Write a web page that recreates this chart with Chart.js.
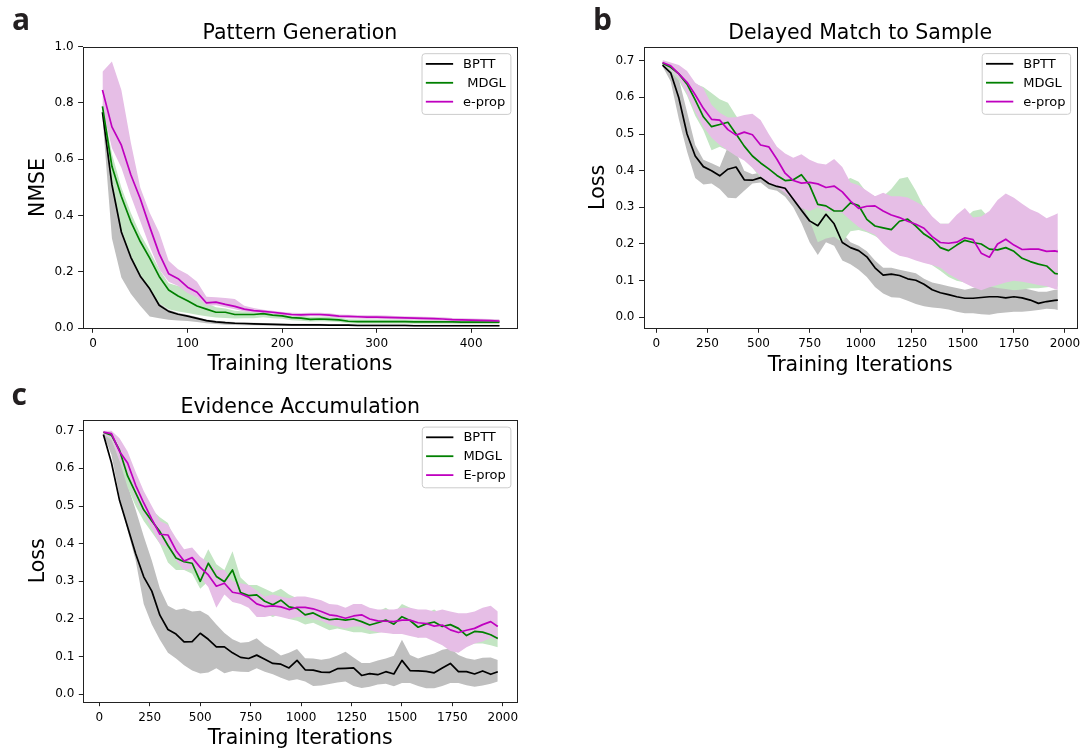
<!DOCTYPE html>
<html>
<head>
<meta charset="utf-8">
<script src="https://cdn.jsdelivr.net/npm/chart.js@4.4.1/dist/chart.umd.min.js"></script>
<style>
  html, body { margin: 0; padding: 0; background: #fff; }
  body { width: 1088px; height: 751px; position: relative; overflow: hidden; }
  canvas { position: absolute; }
</style>
</head>
<body>
<canvas id="chartA" width="544" height="380" style="left:0;top:0"></canvas>
<canvas id="chartB" width="540" height="380" style="left:548px;top:0"></canvas>
<canvas id="chartC" width="544" height="371" style="left:0;top:380px"></canvas>
<script>
// ---- panel a: Pattern Generation ----
const xA = [10,20,30,40,50,60,70,80,90,100,110,120,130,140,150,160,170,180,190,200,210,220,230,240,250,260,270,280,290,300,310,320,330,340,350,360,370,380,390,400,410,420,430];
const bpttA = [0.767,0.51,0.342,0.252,0.185,0.14,0.082,0.06,0.05,0.043,0.035,0.027,0.023,0.02,0.018,0.017,0.016,0.015,0.014,0.013,0.012,0.012,0.012,0.012,0.011,0.011,0.011,0.010,0.010,0.010,0.010,0.010,0.010,0.009,0.009,0.009,0.009,0.009,0.009,0.009,0.009,0.009,0.009];
const bpttLoA = [0.75,0.32,0.18,0.123,0.08,0.042,0.036,0.03,0.028,0.026,0.022,0.018,0.015,0.013,0.012,0.011,0.011,0.010,0.010,0.009,0.009,0.009,0.008,0.008,0.008,0.008,0.008,0.007,0.007,0.007,0.007,0.007,0.007,0.006,0.006,0.006,0.006,0.006,0.006,0.006,0.006,0.006,0.006];
const bpttHiA = [0.775,0.54,0.365,0.27,0.2,0.152,0.09,0.066,0.055,0.048,0.04,0.031,0.027,0.024,0.022,0.021,0.02,0.019,0.018,0.017,0.016,0.016,0.016,0.016,0.015,0.015,0.015,0.014,0.014,0.014,0.014,0.014,0.014,0.013,0.013,0.013,0.013,0.013,0.013,0.013,0.013,0.013,0.013];
const mdglA = [0.788,0.575,0.468,0.379,0.308,0.249,0.184,0.136,0.115,0.098,0.079,0.068,0.057,0.057,0.049,0.049,0.049,0.052,0.047,0.044,0.038,0.036,0.032,0.033,0.032,0.030,0.025,0.024,0.024,0.024,0.024,0.024,0.024,0.023,0.023,0.023,0.023,0.023,0.022,0.022,0.022,0.022,0.022];
const mdglLoA = [0.75,0.525,0.35,0.26,0.19,0.145,0.09,0.068,0.06,0.054,0.048,0.043,0.038,0.037,0.035,0.036,0.036,0.039,0.036,0.034,0.029,0.027,0.024,0.025,0.024,0.022,0.018,0.017,0.017,0.017,0.017,0.017,0.017,0.016,0.016,0.016,0.016,0.016,0.015,0.015,0.015,0.015,0.015];
const mdglHiA = [0.80,0.62,0.50,0.41,0.335,0.275,0.21,0.16,0.15,0.14,0.11,0.09,0.075,0.07,0.062,0.06,0.06,0.064,0.058,0.054,0.047,0.045,0.04,0.041,0.04,0.038,0.032,0.031,0.031,0.031,0.031,0.031,0.031,0.030,0.030,0.030,0.030,0.030,0.029,0.029,0.029,0.029,0.029];
const epropA = [0.846,0.715,0.65,0.545,0.46,0.36,0.265,0.194,0.176,0.146,0.128,0.09,0.093,0.085,0.078,0.068,0.063,0.06,0.057,0.053,0.049,0.048,0.049,0.049,0.047,0.043,0.042,0.041,0.040,0.040,0.039,0.038,0.037,0.036,0.035,0.034,0.033,0.031,0.030,0.029,0.028,0.027,0.026];
const epropLoA = [0.78,0.64,0.57,0.47,0.38,0.29,0.21,0.165,0.15,0.125,0.11,0.08,0.082,0.075,0.068,0.06,0.056,0.053,0.05,0.047,0.043,0.042,0.043,0.043,0.041,0.037,0.036,0.035,0.034,0.034,0.033,0.032,0.031,0.030,0.029,0.028,0.027,0.025,0.024,0.023,0.022,0.021,0.020];
const epropHiA = [0.911,0.947,0.846,0.66,0.50,0.41,0.34,0.24,0.21,0.192,0.165,0.112,0.11,0.108,0.104,0.08,0.072,0.066,0.062,0.058,0.055,0.054,0.055,0.055,0.053,0.049,0.048,0.047,0.046,0.046,0.045,0.044,0.043,0.042,0.041,0.040,0.039,0.037,0.036,0.035,0.034,0.033,0.032];
const xTicksA = [0,100,200,300,400];
const yTicksA = [0,0.2,0.4,0.6,0.8,1.0];

// ---- panel b: Delayed Match to Sample ----
const xB = [30,70,110,150,190,230,270,310,350,390,430,470,510,550,590,630,670,710,750,790,830,870,910,950,990,1030,1070,1110,1150,1190,1230,1270,1310,1350,1390,1430,1470,1510,1550,1590,1630,1670,1710,1750,1790,1830,1870,1910,1950,1965];
const bpttB = [0.688,0.667,0.598,0.500,0.440,0.411,0.400,0.386,0.404,0.410,0.375,0.374,0.381,0.365,0.357,0.352,0.322,0.292,0.263,0.250,0.281,0.255,0.204,0.190,0.182,0.165,0.135,0.115,0.118,0.114,0.105,0.101,0.090,0.075,0.067,0.062,0.056,0.052,0.052,0.054,0.056,0.056,0.053,0.056,0.053,0.047,0.038,0.043,0.046,0.047];
const bpttLoB = [0.685,0.643,0.540,0.452,0.380,0.362,0.365,0.350,0.326,0.325,0.345,0.365,0.368,0.350,0.345,0.329,0.300,0.257,0.205,0.170,0.205,0.195,0.155,0.145,0.130,0.110,0.083,0.065,0.055,0.053,0.045,0.036,0.030,0.027,0.025,0.021,0.015,0.011,0.011,0.008,0.007,0.011,0.013,0.015,0.015,0.017,0.020,0.023,0.022,0.020];
const bpttHiB = [0.697,0.690,0.650,0.560,0.470,0.430,0.420,0.410,0.465,0.450,0.400,0.390,0.395,0.385,0.370,0.362,0.340,0.310,0.285,0.270,0.290,0.275,0.230,0.205,0.195,0.180,0.155,0.135,0.135,0.130,0.125,0.120,0.105,0.095,0.090,0.085,0.080,0.075,0.080,0.085,0.085,0.090,0.085,0.085,0.080,0.075,0.070,0.070,0.075,0.075];
const mdglB = [0.693,0.682,0.664,0.636,0.593,0.547,0.520,0.526,0.532,0.500,0.467,0.440,0.421,0.405,0.387,0.373,0.375,0.389,0.360,0.308,0.304,0.290,0.290,0.312,0.305,0.267,0.249,0.244,0.239,0.262,0.268,0.249,0.227,0.213,0.190,0.182,0.197,0.210,0.204,0.200,0.186,0.184,0.190,0.180,0.161,0.152,0.145,0.140,0.120,0.118];
const mdglLoB = [0.685,0.670,0.645,0.605,0.550,0.510,0.456,0.465,0.455,0.445,0.430,0.408,0.380,0.362,0.354,0.343,0.330,0.310,0.265,0.205,0.215,0.220,0.205,0.235,0.238,0.232,0.222,0.208,0.200,0.190,0.180,0.165,0.155,0.142,0.127,0.110,0.100,0.095,0.090,0.087,0.084,0.080,0.077,0.074,0.076,0.079,0.079,0.082,0.084,0.084];
const mdglHiB = [0.698,0.692,0.680,0.650,0.637,0.628,0.612,0.595,0.585,0.550,0.520,0.500,0.470,0.450,0.430,0.410,0.420,0.440,0.410,0.380,0.370,0.360,0.370,0.380,0.370,0.340,0.330,0.330,0.350,0.378,0.383,0.345,0.300,0.270,0.255,0.255,0.260,0.270,0.290,0.295,0.270,0.260,0.250,0.240,0.230,0.220,0.210,0.200,0.190,0.185];
const epropB = [0.695,0.686,0.664,0.641,0.607,0.570,0.540,0.538,0.512,0.497,0.505,0.498,0.470,0.465,0.431,0.393,0.373,0.366,0.368,0.364,0.354,0.358,0.342,0.317,0.297,0.303,0.304,0.290,0.279,0.272,0.262,0.254,0.243,0.220,0.204,0.202,0.205,0.217,0.212,0.175,0.164,0.200,0.213,0.197,0.185,0.186,0.186,0.180,0.181,0.179];
const epropLoB = [0.688,0.675,0.652,0.610,0.560,0.520,0.490,0.470,0.455,0.440,0.428,0.408,0.385,0.366,0.355,0.340,0.318,0.298,0.290,0.300,0.290,0.288,0.285,0.265,0.246,0.235,0.225,0.200,0.180,0.168,0.163,0.155,0.148,0.143,0.135,0.118,0.105,0.093,0.082,0.074,0.082,0.088,0.095,0.100,0.097,0.093,0.088,0.085,0.077,0.075];
const epropHiB = [0.702,0.695,0.688,0.672,0.640,0.625,0.580,0.558,0.545,0.546,0.552,0.555,0.538,0.500,0.465,0.447,0.435,0.445,0.430,0.420,0.417,0.432,0.410,0.368,0.360,0.345,0.330,0.340,0.330,0.330,0.327,0.315,0.303,0.275,0.255,0.255,0.280,0.298,0.272,0.275,0.290,0.320,0.338,0.326,0.310,0.295,0.285,0.270,0.280,0.284];
const xTicksB = [0,250,500,750,1000,1250,1500,1750,2000];
const yTicksB = [0,0.1,0.2,0.3,0.4,0.5,0.6,0.7];

// ---- panel c: Evidence Accumulation ----
const xC = [20,60,100,140,180,220,260,300,340,380,420,460,500,540,580,620,660,700,740,780,820,860,900,940,980,1020,1060,1100,1140,1180,1220,1260,1300,1340,1380,1420,1460,1500,1540,1580,1620,1660,1700,1740,1780,1820,1860,1900,1940,1975];
const bpttC = [0.690,0.615,0.515,0.444,0.373,0.312,0.274,0.210,0.172,0.160,0.139,0.140,0.162,0.146,0.126,0.126,0.110,0.098,0.095,0.104,0.093,0.082,0.080,0.070,0.090,0.065,0.064,0.059,0.058,0.068,0.069,0.070,0.050,0.055,0.052,0.060,0.054,0.090,0.063,0.062,0.061,0.057,0.070,0.082,0.060,0.060,0.054,0.062,0.053,0.060];
const bpttLoC = [0.690,0.636,0.525,0.435,0.355,0.240,0.185,0.145,0.110,0.095,0.077,0.063,0.055,0.058,0.069,0.056,0.062,0.060,0.059,0.069,0.060,0.053,0.044,0.036,0.040,0.034,0.022,0.023,0.027,0.031,0.034,0.022,0.017,0.020,0.026,0.028,0.021,0.030,0.030,0.022,0.016,0.016,0.022,0.030,0.030,0.024,0.020,0.023,0.028,0.034];
const bpttHiC = [0.693,0.680,0.635,0.555,0.490,0.420,0.355,0.281,0.235,0.224,0.228,0.220,0.222,0.210,0.185,0.163,0.146,0.137,0.139,0.149,0.130,0.118,0.103,0.110,0.120,0.096,0.095,0.092,0.095,0.103,0.113,0.098,0.083,0.083,0.090,0.095,0.102,0.145,0.104,0.095,0.102,0.108,0.118,0.122,0.104,0.096,0.092,0.097,0.098,0.091];
const mdglC = [0.696,0.688,0.648,0.580,0.535,0.490,0.460,0.432,0.395,0.362,0.352,0.348,0.300,0.348,0.313,0.299,0.330,0.270,0.262,0.264,0.247,0.238,0.250,0.232,0.228,0.211,0.216,0.205,0.198,0.200,0.197,0.200,0.193,0.184,0.190,0.197,0.186,0.206,0.196,0.178,0.187,0.192,0.180,0.185,0.175,0.156,0.167,0.165,0.158,0.148];
const mdglLoC = [0.690,0.675,0.620,0.550,0.500,0.460,0.430,0.400,0.350,0.330,0.330,0.320,0.280,0.300,0.290,0.270,0.290,0.245,0.235,0.235,0.215,0.205,0.215,0.200,0.195,0.185,0.190,0.180,0.170,0.175,0.170,0.165,0.165,0.160,0.163,0.168,0.160,0.175,0.165,0.150,0.160,0.165,0.150,0.155,0.145,0.128,0.135,0.135,0.130,0.125];
const mdglHiC = [0.698,0.697,0.670,0.600,0.580,0.530,0.490,0.470,0.455,0.400,0.380,0.375,0.340,0.385,0.345,0.330,0.380,0.310,0.290,0.290,0.280,0.270,0.280,0.265,0.255,0.240,0.245,0.235,0.225,0.230,0.225,0.230,0.225,0.215,0.220,0.230,0.215,0.240,0.230,0.210,0.215,0.225,0.210,0.215,0.205,0.190,0.195,0.195,0.190,0.175];
const epropC = [0.696,0.692,0.645,0.614,0.555,0.508,0.465,0.425,0.423,0.382,0.354,0.363,0.337,0.317,0.287,0.295,0.271,0.267,0.258,0.240,0.233,0.235,0.232,0.225,0.231,0.231,0.227,0.220,0.211,0.208,0.202,0.208,0.211,0.200,0.195,0.194,0.193,0.197,0.197,0.190,0.188,0.181,0.184,0.171,0.164,0.170,0.175,0.185,0.193,0.180];
const epropLoC = [0.690,0.680,0.620,0.580,0.520,0.480,0.440,0.400,0.390,0.355,0.330,0.335,0.310,0.285,0.230,0.265,0.245,0.240,0.230,0.205,0.205,0.210,0.205,0.200,0.205,0.205,0.200,0.195,0.185,0.180,0.175,0.180,0.180,0.170,0.165,0.163,0.160,0.160,0.155,0.150,0.150,0.140,0.130,0.115,0.110,0.125,0.135,0.140,0.150,0.145];
const epropHiC = [0.700,0.700,0.680,0.645,0.590,0.540,0.500,0.460,0.450,0.415,0.385,0.390,0.365,0.350,0.330,0.330,0.300,0.295,0.290,0.275,0.260,0.265,0.260,0.255,0.260,0.260,0.255,0.250,0.240,0.238,0.230,0.240,0.240,0.230,0.225,0.225,0.225,0.230,0.230,0.225,0.225,0.220,0.225,0.220,0.215,0.215,0.220,0.230,0.235,0.220];
const xTicksC = [0,250,500,750,1000,1250,1500,1750,2000];
const yTicksC = [0,0.1,0.2,0.3,0.4,0.5,0.6,0.7];

const FONT = 'DejaVu Sans';
const GRAY_BAND = '#bfbfbf';
const GREEN_BAND = '#c3e5c3';
const PINK_BAND = '#e6bee6';

function pts(xs, ys) {
  return xs.map((x, i) => ({x: x, y: ys[i]}));
}

function band(xs, lo, hi, color, order) {
  return [
    {data: pts(xs, lo), borderColor: 'rgba(0,0,0,0)', backgroundColor: color, pointRadius: 0, fill: false, order: order},
    {data: pts(xs, hi), borderColor: 'rgba(0,0,0,0)', backgroundColor: color, pointRadius: 0, fill: '-1', order: order}
  ];
}

function line(xs, ys, label, color, order) {
  return {label: label, data: pts(xs, ys), borderColor: color, borderWidth: 1.7, pointRadius: 0,
          fill: false, order: order, borderJoinStyle: 'round', showInLegend: true};
}

// frame, title, panel letter and the boxed legend
const deco = {
  id: 'deco',
  afterDatasetsDraw(chart, args, o) {
    const ctx = chart.ctx;
    const a = chart.chartArea;
    ctx.save();
    ctx.strokeStyle = '#222';
    ctx.lineWidth = 1;
    ctx.strokeRect(Math.round(a.left) + 0.5, Math.round(a.top) + 0.5,
                   Math.round(a.right) - Math.round(a.left), Math.round(a.bottom) - Math.round(a.top));

    ctx.fillStyle = '#000';
    ctx.textBaseline = 'alphabetic';
    ctx.textAlign = 'center';
    ctx.font = '20.5px "' + FONT + '"';
    ctx.fillText(o.title, (a.left + a.right) / 2, a.top - 7.4);

    ctx.textAlign = 'left';
    ctx.font = 'bold 30px "Open Sans"';
    ctx.fillStyle = '#231f20';
    ctx.fillText(o.letter, o.lx, o.ly);

    ctx.font = '13px "' + FONT + '"';
    const items = chart.data.datasets.filter(d => d.showInLegend);
    const tw = Math.max(...items.map(d => ctx.measureText(d.label).width));
    const w = 46.2 + tw, h = 60.7;
    const x0 = a.right - 6.8 - w, y0 = a.top + 6.6;
    ctx.beginPath();
    ctx.roundRect(x0 + 0.5, y0 + 0.5, w, h, 3);
    ctx.fillStyle = 'rgba(255,255,255,0.8)';
    ctx.fill();
    ctx.strokeStyle = '#cccccc';
    ctx.stroke();
    items.forEach((d, i) => {
      const y = y0 + 10.7 + i * 18.9;
      ctx.beginPath();
      ctx.moveTo(x0 + 4.3, y);
      ctx.lineTo(x0 + 31.6, y);
      ctx.strokeStyle = d.borderColor;
      ctx.lineWidth = 1.8;
      ctx.stroke();
      ctx.fillStyle = '#000';
      ctx.textBaseline = 'middle';
      ctx.fillText(d.label, x0 + 41.6, y + 0.8);
    });
    ctx.restore();
  }
};

function makeChart(id, g) {
  const tickFont = {family: FONT, size: 12};
  const labelFont = {family: FONT, size: 20.5};
  return new Chart(document.getElementById(id), {
    type: 'line',
    data: {datasets: g.datasets},
    options: {
      responsive: false,
      animation: false,
      events: [],
      layout: {padding: g.padding},
      plugins: {
        legend: {display: false},
        tooltip: {enabled: false},
        deco: {title: g.title, letter: g.letter, lx: g.lx, ly: g.ly}
      },
      scales: {
        x: {
          type: 'linear', min: g.xmin, max: g.xmax,
          afterBuildTicks: s => { s.ticks = g.xticks.map(v => ({value: v})); },
          afterFit: s => { s.height = g.xh; },
          grid: {drawOnChartArea: false, tickLength: 4.5, color: '#222'},
          border: {display: false},
          ticks: {autoSkip: false, maxRotation: 0, padding: 4, color: '#000', font: tickFont,
                  callback: v => String(v)},
          title: {display: true, text: 'Training Iterations', color: '#000', font: labelFont,
                  padding: {top: 0, bottom: g.xtp}}
        },
        y: {
          type: 'linear', min: g.ymin, max: g.ymax,
          afterBuildTicks: s => { s.ticks = g.yticks.map(v => ({value: v})); },
          afterFit: s => { s.width = g.yw; },
          grid: {drawOnChartArea: false, tickLength: 4.5, color: '#222'},
          border: {display: false},
          ticks: {padding: 4.5, color: '#000', font: tickFont, callback: v => v.toFixed(1)},
          title: {display: true, text: g.ylabel, color: '#000', font: labelFont,
                  padding: {top: g.ytp, bottom: 0}}
        }
      }
    },
    plugins: [deco]
  });
}

function datasetsFor(xs, s) {
  return [
    ...band(xs, s.bLo, s.bHi, GRAY_BAND, 30),
    ...band(xs, s.gLo, s.gHi, GREEN_BAND, 20),
    ...band(xs, s.mLo, s.mHi, PINK_BAND, 10),
    line(xs, s.b, 'BPTT', '#000000', 3),
    line(xs, s.g, s.gName, '#008000', 2),
    line(xs, s.m, s.mName, '#bf00bf', 1)
  ];
}

makeChart('chartA', {
  datasets: datasetsFor(xA, {b: bpttA, bLo: bpttLoA, bHi: bpttHiA, g: mdglA, gLo: mdglLoA, gHi: mdglHiA,
                             m: epropA, mLo: epropLoA, mHi: epropHiA, gName: ' MDGL', mName: 'e-prop'}),
  padding: {left: 0, top: 46.6, right: 26.8, bottom: 0},
  xmin: -11, xmax: 448.7, ymin: 0, ymax: 1.0,
  xticks: xTicksA, yticks: yTicksA,
  xh: 51.7, yw: 82.6, xtp: 2.7, ytp: 26,
  ylabel: 'NMSE', title: 'Pattern Generation', letter: 'a', lx: 12, ly: 29.5
});

makeChart('chartB', {
  datasets: datasetsFor(xB, {b: bpttB, bLo: bpttLoB, bHi: bpttHiB, g: mdglB, gLo: mdglLoB, gHi: mdglHiB,
                             m: epropB, mLo: epropLoB, mHi: epropHiB, gName: 'MDGL', mName: 'e-prop'}),
  padding: {left: 0, top: 46.5, right: 11.1, bottom: 0},
  xmin: -63.1, xmax: 2058.3, ymin: -0.030, ymax: 0.7387,
  xticks: xTicksB, yticks: yTicksB,
  xh: 51.7, yw: 95.5, xtp: 2.4, ytp: 38.1,
  ylabel: 'Loss', title: 'Delayed Match to Sample', letter: 'b', lx: 45, ly: 29.5
});

makeChart('chartC', {
  datasets: datasetsFor(xC, {b: bpttC, bLo: bpttLoC, bHi: bpttHiC, g: mdglC, gLo: mdglLoC, gHi: mdglHiC,
                             m: epropC, mLo: epropLoC, mHi: epropHiC, gName: 'MDGL', mName: 'E-prop'}),
  padding: {left: 0, top: 40, right: 26.8, bottom: 0},
  xmin: -79.6, xmax: 2071.3, ymin: -0.0197, ymax: 0.7284,
  xticks: xTicksC, yticks: yTicksC,
  xh: 49.3, yw: 83.3, xtp: 0, ytp: 26,
  ylabel: 'Loss', title: 'Evidence Accumulation', letter: 'c', lx: 11.5, ly: 25
});
</script>
</body>
</html>
